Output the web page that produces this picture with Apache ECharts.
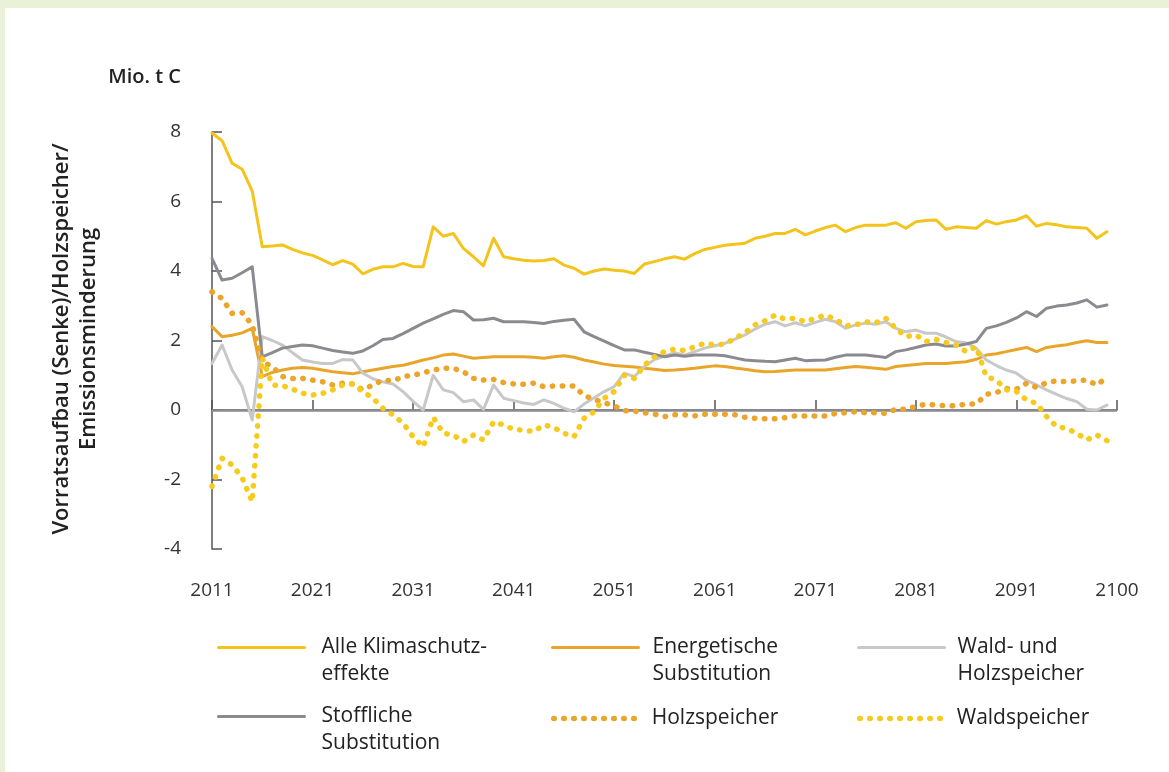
<!DOCTYPE html>
<html>
<head>
<meta charset="utf-8">
<script src="https://cdn.jsdelivr.net/npm/echarts@6/dist/echarts.min.js"></script>
<style>
html, body { margin: 0; padding: 0; background: #fff; }
#chart { width: 1169px; height: 772px; }
.strip { position: absolute; background: #e9f2d8; }
</style>
</head>
<body>
<div id="chart"></div>
<div class="strip" style="left:0;top:0;width:1169px;height:8px"></div>
<div class="strip" style="left:0;top:0;width:5px;height:772px"></div>
<script>
var years = [2011, 2012, 2013, 2014, 2015, 2016, 2017, 2018, 2019, 2020,
    2021, 2022, 2023, 2024, 2025, 2026, 2027, 2028, 2029, 2030,
    2031, 2032, 2033, 2034, 2035, 2036, 2037, 2038, 2039, 2040,
    2041, 2042, 2043, 2044, 2045, 2046, 2047, 2048, 2049, 2050,
    2051, 2052, 2053, 2054, 2055, 2056, 2057, 2058, 2059, 2060,
    2061, 2062, 2063, 2064, 2065, 2066, 2067, 2068, 2069, 2070,
    2071, 2072, 2073, 2074, 2075, 2076, 2077, 2078, 2079, 2080,
    2081, 2082, 2083, 2084, 2085, 2086, 2087, 2088, 2089, 2090,
    2091, 2092, 2093, 2094, 2095, 2096, 2097, 2098, 2099, 2100];

var xTickLabels = ['2011', '2021', '2031', '2041', '2051', '2061', '2071', '2081', '2091', '2100'];

// Mio. t C
var alle = [7.97, 7.75, 7.1, 6.93, 6.3, 4.7, 4.72, 4.75, 4.62, 4.52,
    4.45, 4.32, 4.18, 4.3, 4.2, 3.92, 4.05, 4.12, 4.12, 4.22,
    4.13, 4.12, 5.27, 5.0, 5.08, 4.65, 4.41, 4.15, 4.94, 4.41,
    4.35, 4.31, 4.29, 4.3, 4.35, 4.17, 4.08, 3.91, 4.0, 4.06,
    4.02, 4.0, 3.93, 4.2, 4.27, 4.35, 4.41, 4.34, 4.5, 4.62,
    4.68, 4.74, 4.77, 4.8, 4.94, 5.0, 5.08, 5.08, 5.2, 5.04,
    5.15, 5.25, 5.32, 5.13, 5.25, 5.32, 5.32, 5.32, 5.39, 5.23,
    5.42, 5.45, 5.47, 5.2, 5.27, 5.25, 5.23, 5.45, 5.35, 5.42,
    5.47, 5.59, 5.29, 5.37, 5.33, 5.27, 5.25, 5.23, 4.94, 5.13];

var energetisch = [2.4, 2.11, 2.15, 2.22, 2.35, 0.96, 1.08, 1.15, 1.2, 1.22,
    1.2, 1.15, 1.1, 1.07, 1.04, 1.1, 1.15, 1.2, 1.25, 1.29,
    1.36, 1.44, 1.5, 1.58, 1.61, 1.55, 1.49, 1.51, 1.53, 1.53,
    1.53, 1.53, 1.52, 1.49, 1.53, 1.56, 1.52, 1.44, 1.38, 1.32,
    1.28, 1.26, 1.24, 1.2, 1.17, 1.14, 1.15, 1.17, 1.2, 1.24,
    1.27, 1.25, 1.21, 1.17, 1.13, 1.1, 1.11, 1.13, 1.15, 1.15,
    1.15, 1.15, 1.19, 1.22, 1.25, 1.23, 1.2, 1.17, 1.25, 1.28,
    1.31, 1.34, 1.34, 1.34, 1.37, 1.39, 1.46, 1.58, 1.62, 1.68,
    1.74, 1.8, 1.68, 1.8, 1.84, 1.88, 1.94, 1.99, 1.94, 1.94];

var waldHolz = [1.34, 1.87, 1.15, 0.67, -0.29, 2.11, 2.0, 1.87, 1.65, 1.44,
    1.38, 1.34, 1.34, 1.45, 1.44, 1.06, 0.9, 0.81, 0.75, 0.53,
    0.25, 0.0, 1.0, 0.58, 0.5, 0.24, 0.29, 0.02, 0.72, 0.34,
    0.27, 0.2, 0.16, 0.29, 0.19, 0.05, -0.05, 0.17, 0.35, 0.53,
    0.67, 1.06, 0.96, 1.25, 1.45, 1.55, 1.65, 1.58, 1.68, 1.78,
    1.85, 1.92, 2.04, 2.16, 2.33, 2.47, 2.54, 2.42, 2.51, 2.42,
    2.52, 2.61, 2.54, 2.35, 2.45, 2.5, 2.47, 2.54, 2.35, 2.25,
    2.3, 2.21, 2.21, 2.1, 1.97, 1.93, 1.78, 1.44, 1.28, 1.15,
    1.06, 0.85, 0.72, 0.58, 0.45, 0.33, 0.24, 0.02, 0.0, 0.14];

var stofflich = [4.36, 3.74, 3.79, 3.95, 4.12, 1.53, 1.65, 1.78, 1.83, 1.87,
    1.85, 1.78, 1.71, 1.67, 1.63, 1.7, 1.85, 2.03, 2.06, 2.2,
    2.35, 2.5, 2.62, 2.75, 2.86, 2.83, 2.59, 2.6, 2.64, 2.54,
    2.54, 2.54, 2.52, 2.49, 2.55, 2.58, 2.61, 2.25, 2.11, 1.98,
    1.85, 1.73, 1.73, 1.66, 1.6, 1.53, 1.58, 1.55, 1.58, 1.58,
    1.58, 1.56, 1.5, 1.44, 1.42, 1.4, 1.39, 1.44, 1.49, 1.42,
    1.43, 1.44, 1.52, 1.58, 1.58, 1.58, 1.55, 1.51, 1.68, 1.73,
    1.8, 1.87, 1.9, 1.84, 1.84, 1.9, 1.97, 2.35, 2.42, 2.52,
    2.65, 2.83, 2.69, 2.93, 2.99, 3.02, 3.08, 3.17, 2.96, 3.02];

var holzspeicher = [3.4, 3.21, 2.78, 2.8, 2.45, 1.39, 1.25, 0.96, 0.91, 0.91,
    0.86, 0.81, 0.72, 0.77, 0.75, 0.58, 0.72, 0.86, 0.84, 0.96,
    1.0, 1.07, 1.15, 1.2, 1.2, 1.1, 0.91, 0.86, 0.88, 0.79,
    0.75, 0.74, 0.77, 0.67, 0.69, 0.69, 0.69, 0.42, 0.3, 0.21,
    0.12, -0.02, -0.03, -0.08, -0.12, -0.19, -0.14, -0.14, -0.17, -0.12,
    -0.12, -0.12, -0.14, -0.21, -0.24, -0.25, -0.25, -0.22, -0.17, -0.17,
    -0.17, -0.17, -0.1, -0.08, -0.05, -0.08, -0.08, -0.1, 0.02, 0.02,
    0.1, 0.17, 0.14, 0.12, 0.12, 0.17, 0.17, 0.45, 0.5, 0.62,
    0.6, 0.77, 0.65, 0.79, 0.84, 0.81, 0.84, 0.86, 0.72, 0.94];

var waldspeicher = [-2.2, -1.39, -1.58, -1.95, -2.64, 1.5, 0.72, 0.7, 0.6, 0.48,
    0.43, 0.48, 0.58, 0.72, 0.75, 0.53, 0.34, 0.05, -0.14, -0.38,
    -0.77, -1.06, -0.21, -0.67, -0.72, -0.91, -0.72, -0.86, -0.34, -0.43,
    -0.56, -0.58, -0.62, -0.43, -0.5, -0.67, -0.77, -0.24, -0.05, 0.34,
    0.53, 1.0, 0.91, 1.29, 1.53, 1.68, 1.75, 1.71, 1.82, 1.92,
    1.87, 1.9, 2.06, 2.22, 2.45, 2.57, 2.73, 2.61, 2.64, 2.54,
    2.64, 2.73, 2.61, 2.42, 2.45, 2.54, 2.51, 2.64, 2.35, 2.11,
    2.16, 1.97, 2.03, 1.94, 1.87, 1.68, 1.82, 0.96, 0.86, 0.58,
    0.53, 0.29, 0.19, -0.19, -0.48, -0.53, -0.67, -0.86, -0.72, -0.88];

var names = ['Alle Klimaschutz-\neffekte', 'Energetische\nSubstitution', 'Wald- und\nHolzspeicher',
    'Stoffliche\nSubstitution', 'Holzspeicher', 'Waldspeicher'];

var chart = echarts.init(document.getElementById('chart'));

function pairs(arr) {
    return arr.map(function (v, i) { return [years[i] - years[0], v]; });
}

var font = '"Open Sans", "Liberation Sans", sans-serif';
var dots = [0.5, 9.5];

function lineSeries(name, data, color, width, type, z) {
    return {
        name: name,
        type: 'line',
        data: pairs(data),
        symbol: 'none',
        showSymbol: false,
        z: z,
        itemStyle: { color: color },
        lineStyle: { color: color, width: width, type: type, cap: 'round', join: 'round' }
    };
}

function legendAt(name, left, top, padLeft, twoLines, dotted) {
    return {
        data: [name],
        left: left,
        top: top,
        padding: 0,
        itemWidth: 86,
        itemHeight: 14,
        selectedMode: false,
        itemStyle: { opacity: 0 },
        lineStyle: dotted ? { width: 5.5, type: dots, cap: 'round' } : { width: 3 },
        // empty first line keeps the first text line level with the icon
        formatter: function (n) { return twoLines ? ' \n' + n : n; },
        textStyle: {
            fontFamily: font,
            fontSize: 21,
            color: '#222',
            lineHeight: 27,
            padding: [0, 0, 0, padLeft]
        }
    };
}

var series = [
    lineSeries(names[0], alle, '#f3c41c', 3, 'solid', 2),
    lineSeries(names[1], energetisch, '#e9a52a', 3, 'solid', 2),
    lineSeries(names[2], waldHolz, '#c8c8ca', 3, 'solid', 2),
    lineSeries(names[3], stofflich, '#8a8a91', 3, 'solid', 3),
    lineSeries(names[4], holzspeicher, '#eaa52a', 5.5, dots, 4),
    lineSeries(names[5], waldspeicher, '#f6cb1e', 5.5, dots, 4)
];

series[0].markLine = {
    silent: true,
    symbol: 'none',
    label: { show: false },
    z: 1,
    lineStyle: { color: '#8a8a92', width: 2.5, type: 'solid' },
    data: [{ yAxis: 0 }]
};

var option = {
    animation: false,
    backgroundColor: '#fff',
    grid: { left: 212, right: 52, top: 132, bottom: 223 },
    xAxis: {
        type: 'value',
        min: 0,
        max: 90,
        interval: 10,
        axisLine: { lineStyle: { color: '#555', width: 1.5 } },
        axisTick: { inside: true, length: 10, lineStyle: { color: '#555', width: 1.5 } },
        axisLabel: {
            margin: 32,
            fontFamily: font,
            fontSize: 19,
            color: '#333',
            formatter: function (v) { return xTickLabels[Math.round(v / 10)]; }
        },
        splitLine: { show: false }
    },
    yAxis: {
        type: 'value',
        min: -4,
        max: 8,
        interval: 2,
        axisLine: { show: true, lineStyle: { color: '#555', width: 1.5 } },
        axisTick: { show: true, inside: true, length: 10, lineStyle: { color: '#555', width: 1.5 } },
        axisLabel: { margin: 31, fontFamily: font, fontSize: 19, color: '#333' },
        splitLine: { show: false }
    },
    legend: [
        legendAt(names[0], 217, 607, 12, true, false),
        legendAt(names[1], 551, 607, 9, true, false),
        legendAt(names[2], 857, 607, 8, true, false),
        legendAt(names[3], 217, 676, 12, true, false),
        legendAt(names[4], 551, 705, 7, false, true),
        legendAt(names[5], 857, 705, 6, false, true)
    ],
    graphic: [
        {
            type: 'text',
            x: 181,
            y: 77,
            style: {
                text: 'Mio. t C',
                fill: '#222',
                font: '600 20px ' + font,
                textAlign: 'right',
                textVerticalAlign: 'middle'
            }
        },
        {
            type: 'text',
            x: 75,
            y: 339,
            rotation: Math.PI / 2,
            style: {
                text: 'Vorratsaufbau (Senke)/Holzspeicher/\nEmissionsminderung',
                fill: '#222',
                font: '600 22px ' + font,
                lineHeight: 27,
                textAlign: 'center',
                textVerticalAlign: 'middle'
            }
        }
    ],
    series: series
};

chart.setOption(option);
</script>
</body>
</html>
